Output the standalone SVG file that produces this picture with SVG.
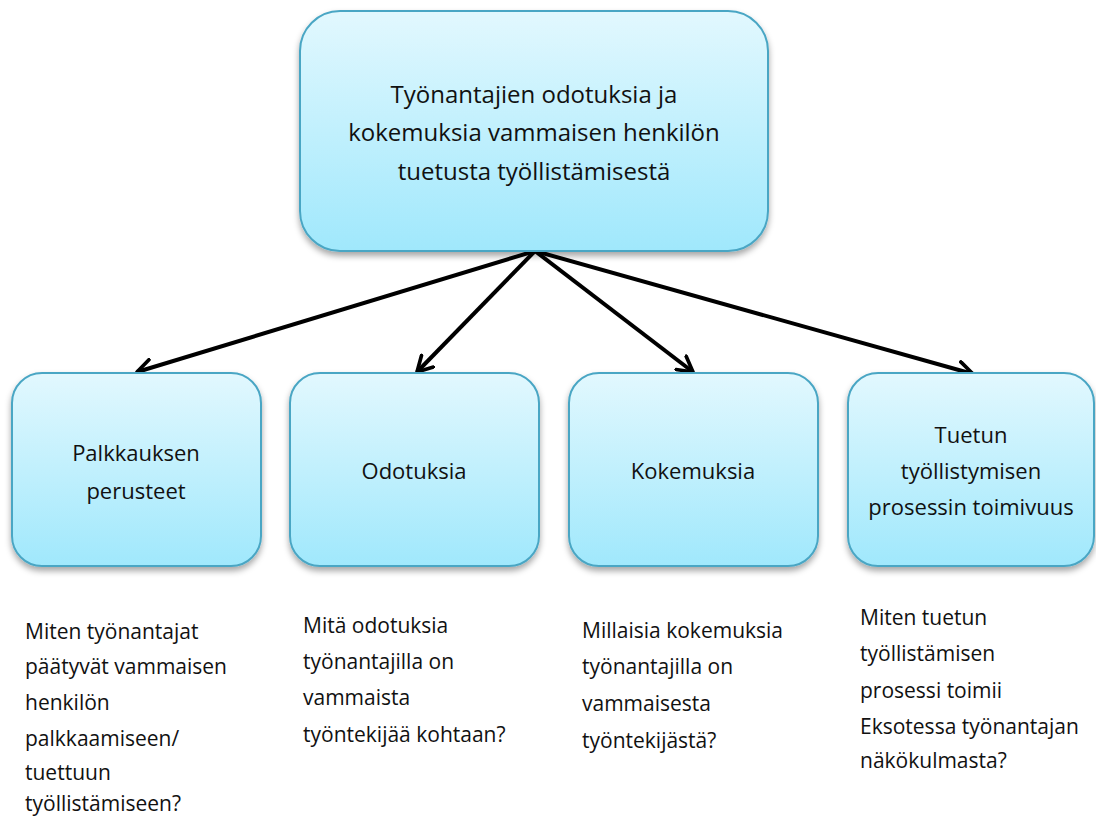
<svg xmlns="http://www.w3.org/2000/svg" width="1096" height="819" viewBox="0 0 1096 819">
<style>
.box{fill:url(#g);stroke:#4aa6c4;stroke-width:2;filter:url(#sh)}
.t{font-family:"Open Sans","Liberation Sans",sans-serif;font-size:22px;fill:#111;text-anchor:middle}
.tt{font-size:24px}
.q{font-family:"Open Sans","Liberation Sans",sans-serif;font-size:21px;fill:#111}
.c{stroke:#000;stroke-width:4;fill:none;marker-end:url(#ah)}
</style>
<defs>
<linearGradient id="g" x1="0" y1="0" x2="0" y2="1">
<stop offset="0" stop-color="#e2f8fe"/>
<stop offset="1" stop-color="#a0e8fc"/>
</linearGradient>
<filter id="sh" x="-10%" y="-10%" width="120%" height="125%">
<feDropShadow dx="0" dy="4" stdDeviation="3" flood-color="#000" flood-opacity="0.35"/>
</filter>
<marker id="ah" viewBox="0 0 12 12" refX="10" refY="6" markerWidth="5" markerHeight="5" markerUnits="strokeWidth" orient="auto">
<path d="M1,1 L10,6 L1,11" fill="none" stroke="#000" stroke-width="2.2" stroke-linecap="round" stroke-linejoin="round"/>
</marker>
</defs>
<rect width="1096" height="819" fill="#fff"/>
<g id="connectors">
<line class="c" x1="535" y1="251" x2="137" y2="372"/>
<line class="c" x1="535" y1="251" x2="417" y2="372"/>
<line class="c" x1="535" y1="251" x2="693" y2="372"/>
<line class="c" x1="535" y1="251" x2="973" y2="374"/>
</g>
<g id="top">
<rect class="box" x="300" y="11" width="468" height="240" rx="40"/>
<text class="t tt" x="534" y="103">Työnantajien odotuksia ja</text>
<text class="t tt" x="534" y="141">kokemuksia vammaisen henkilön</text>
<text class="t tt" x="534" y="180">tuetusta työllistämisestä</text>
</g>
<g id="n1">
<rect class="box" x="12" y="373" width="249" height="193" rx="30"/>
<text class="t" x="136" y="461">Palkkauksen</text>
<text class="t" x="136" y="499">perusteet</text>
</g>
<g id="n2">
<rect class="box" x="290" y="373" width="249" height="193" rx="30"/>
<text class="t" x="414" y="479">Odotuksia</text>
</g>
<g id="n3">
<rect class="box" x="569" y="373" width="249" height="193" rx="30"/>
<text class="t" x="693" y="479">Kokemuksia</text>
</g>
<g id="n4">
<rect class="box" x="848" y="373" width="246" height="193" rx="30"/>
<text class="t" x="971" y="443">Tuetun</text>
<text class="t" x="971" y="479">työllistymisen</text>
<text class="t" x="971" y="515">prosessin toimivuus</text>
</g>
<g id="q1">
<text class="q" x="25" y="639">Miten työnantajat</text>
<text class="q" x="25" y="674">päätyvät vammaisen</text>
<text class="q" x="25" y="710">henkilön</text>
<text class="q" x="25" y="746">palkkaamiseen/</text>
<text class="q" x="25" y="780">tuettuun</text>
<text class="q" x="25" y="811">työllistämiseen?</text>
</g>
<g id="q2">
<text class="q" x="303" y="633">Mitä odotuksia</text>
<text class="q" x="303" y="669">työnantajilla  on</text>
<text class="q" x="303" y="705">vammaista</text>
<text class="q" x="303" y="742">työntekijää kohtaan?</text>
</g>
<g id="q3">
<text class="q" x="582" y="638">Millaisia kokemuksia</text>
<text class="q" x="582" y="674">työnantajilla  on</text>
<text class="q" x="582" y="711">vammaisesta</text>
<text class="q" x="582" y="748">työntekijästä?</text>
</g>
<g id="q4">
<text class="q" x="860" y="625">Miten tuetun</text>
<text class="q" x="860" y="661">työllistämisen</text>
<text class="q" x="860" y="698">prosessi toimii</text>
<text class="q" x="860" y="734">Eksotessa työnantajan</text>
<text class="q" x="860" y="768">näkökulmasta?</text>
</g>
</svg>
